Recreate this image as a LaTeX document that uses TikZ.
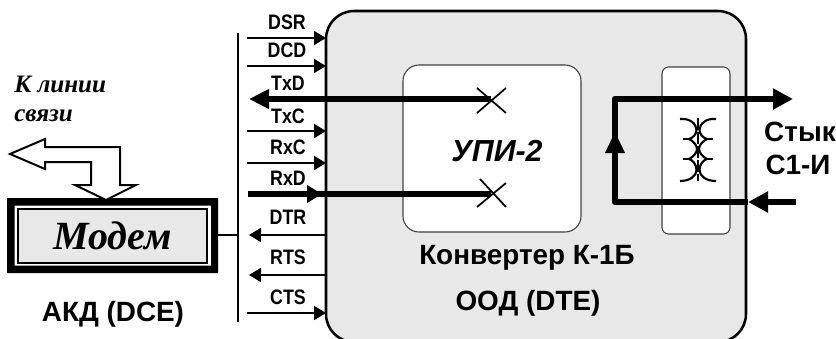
\documentclass[tikz,border=0pt]{standalone}
\usepackage{fontspec}
\setmainfont{Liberation Sans}
\newfontfamily\serifcyr{Liberation Serif}
\newfontfamily\narrowlab[FakeStretch=0.85]{Liberation Sans}
\usetikzlibrary{arrows.meta}
\definecolor{panel}{HTML}{E8E8E8}
\tikzset{
  x=0.75pt,y=-0.75pt,
  sig/.style={line width=1.5pt,-{Triangle[length=9pt,width=10.5pt]}},
  fat/.style={line width=5pt},
  fatarrow/.style={fat,-{Triangle[length=15pt,width=15pt]}},
  crossline/.style={line width=1.3pt},
  lab/.style={inner sep=0pt,anchor=base,font=\narrowlab\bfseries\fontsize{15.7}{17}\selectfont},
  big/.style={inner sep=0pt,anchor=base,font=\bfseries\fontsize{20.9}{23}\selectfont},
  ital/.style={inner sep=0pt,anchor=base west,font=\serifcyr\bfseries\itshape\fontsize{18.8}{21}\selectfont},
  coil/.style={line width=1.6pt},
}
\begin{document}
\begin{tikzpicture}
\useasboundingbox (0,0) rectangle (836,339);
\clip (0,0) rectangle (836,339);
% main converter box
\draw[fill=panel,line width=1.9pt,rounded corners=21pt] (326,11) rectangle (746,342);
% inner boxes
\draw[fill=white,draw=black!75,line width=0.8pt,rounded corners=12pt] (403,65) rectangle (581,232);
\draw[fill=white,draw=black!75,line width=0.8pt,rounded corners=5pt] (662,67) rectangle (730,234);
% modem
\fill[black,even odd rule] (7,198) rectangle (218,273) (14.5,205.5) rectangle (211,265.5);
\node[draw=black,fill=panel,line width=1.5pt,minimum width=141.5pt,minimum height=40pt,inner sep=0pt] (modem) at (112.5,236)
  {\serifcyr\bfseries\itshape\fontsize{30}{32}\selectfont Модем};
% bus
\coordinate (busT) at (238,33);
\coordinate (busB) at (238,322);
\coordinate (busM) at (238,235);
\coordinate (modemE) at (218,235);
\draw[line width=1.5pt] (busT) -- (busB);
\draw[line width=1.1pt] (modemE) -- (busM);
% to line arrow
\draw[line width=1.5pt,fill=white,line join=miter] (10,154) -- (45,139) -- (45,147) -- (120,147) -- (120,185) -- (136,185) -- (106,200) -- (75,185) -- (91,185) -- (91,162) -- (45,162) -- (45,169) -- cycle;
% signal coordinates
\foreach \n/\y in {dsr/38,dcd/66,txc/131,rxc/163,cts/313}{
  \coordinate (\n L) at (247,\y);
  \coordinate (\n R) at (326,\y);
  \draw[sig] (\n L) -- (\n R);
}
\foreach \n/\y in {dtr/235,rts/275}{
  \coordinate (\n L) at (249,\y);
  \coordinate (\n R) at (326,\y);
  \draw[sig] (\n R) -- (\n L);
}
% TxD
\coordinate (txdL) at (249,99);
\coordinate (txdX) at (491,99);
\draw[fat,{Triangle[length=15pt,width=14pt]}-] (txdL) -- (txdX);
\draw[crossline] (477,88) -- (506,113) (506,88) -- (477,113);
% RxD
\coordinate (rxdL) at (248,194);
\coordinate (rxdX) at (491,194);
\draw[fat] (rxdL) -- (rxdX);
\fill (307,185) -- (322,194) -- (307,203) -- cycle;
\draw[crossline] (480,179) -- (506,207) (506,183) -- (477,207);
% loop
\coordinate (loopTL) at (615,99);
\coordinate (loopBL) at (615,202);
\coordinate (loopTR) at (793,99);
\coordinate (loopBR) at (748,202);
\coordinate (inR) at (796,202);
\draw[fatarrow,line join=round] (loopBL) -- (loopTL) -- (loopTR);
\draw[fat,line join=round] (loopBR) -- (loopBL) -- (loopTL);
\fill (615,132) -- (625,153) -- (605,153) -- cycle;
\draw[fatarrow] (inR) -- (loopBR);
% transformer
\draw[line width=2pt,dash pattern=on 9pt off 1.5pt] (698,118) -- (698,181);
\foreach \s in {1,-1}{
\begin{scope}[shift={(698,0)},xscale=\s]
\draw[coil] (-18,119) .. controls (-8,118) and (-1.5,124) .. (-1.5,130) .. controls (-1.5,134) and (-5,138) .. (-9,139);
\draw[coil] (-15,139) -- (-9,139);
\draw[coil] (-9,139) .. controls (-5,141) and (-1,145) .. (-1,149) .. controls (-1,153) and (-5,157) .. (-9,159);
\draw[coil] (-15,159) -- (-9,159);
\draw[coil] (-9,159) .. controls (-5,160) and (-1.5,165) .. (-1.5,170) .. controls (-1.5,176) and (-8,181) .. (-18,181);
\end{scope}}
% labels
\node[lab] (lDSR) at (287,30) {DSR};
\node[lab] (lDCD) at (287,57) {DCD};
\node[lab] (lTxD) at (288,90) {TxD};
\node[lab] (lTxC) at (288,123) {TxC};
\node[lab] (lRxC) at (288,154) {RxC};
\node[lab] (lRxD) at (288,185) {RxD};
\node[lab] (lDTR) at (288,224) {DTR};
\node[lab] (lRTS) at (288,264) {RTS};
\node[lab] (lCTS) at (288,304) {CTS};
\node[big,font=\bfseries\itshape\fontsize{22.8}{25}\selectfont] (upi) at (497,161) {УПИ-2};
\node[big] (conv) at (527,264) {Конвертер К-1Б};
\node[big] (dte) at (528,310) {ООД (DTE)};
\node[big] (dce) at (113,321) {АКД (DCE)};
\node[big] (st1) at (800,141) {Стык};
\node[big] (st2) at (798,174) {С1-И};
\node[ital] (k1) at (14,92) {К линии};
\node[ital] (k2) at (14,121) {связи};
\end{tikzpicture}
\end{document}
